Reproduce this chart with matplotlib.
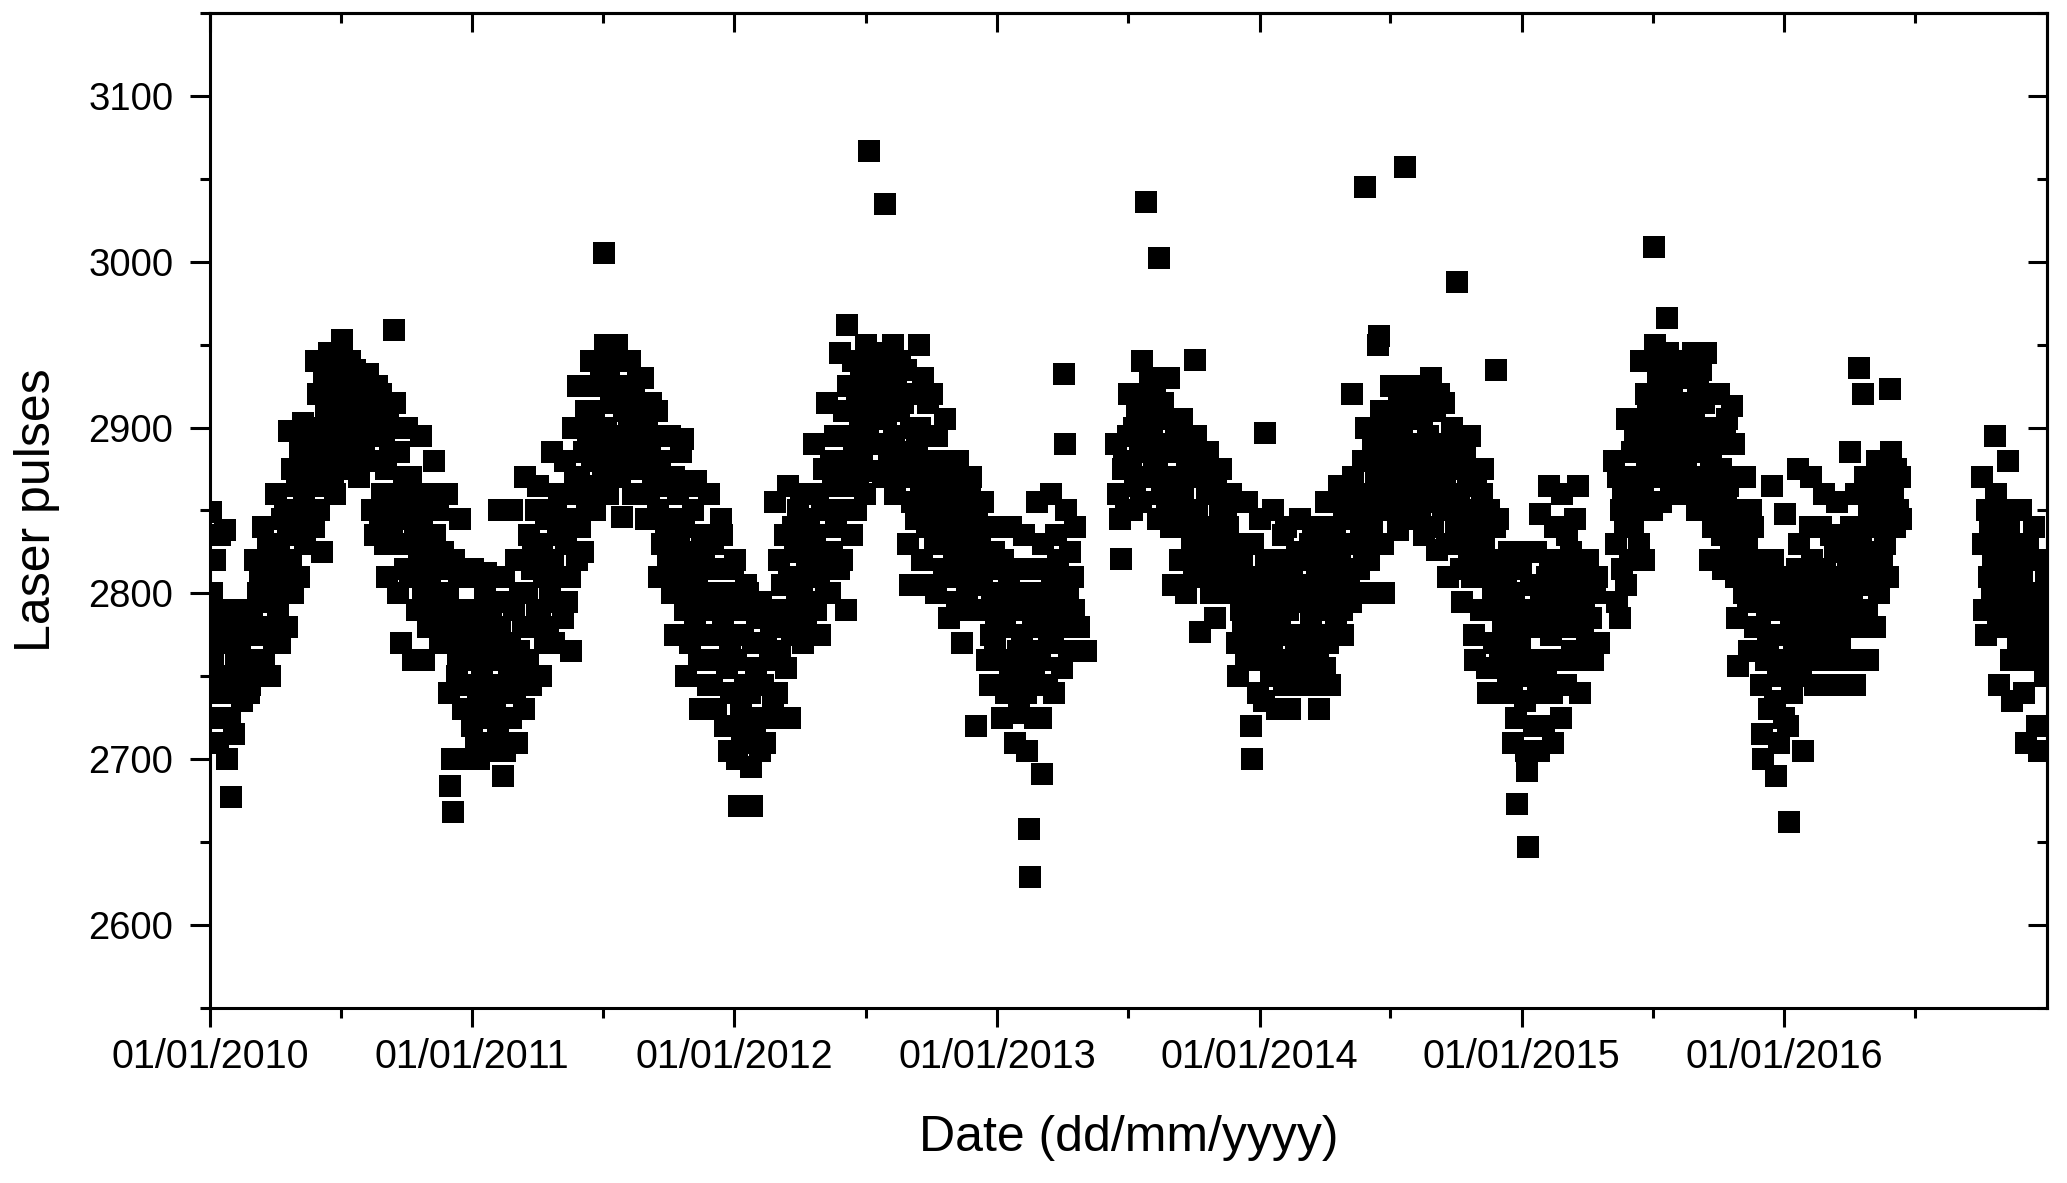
import datetime as dt
import numpy as np
import matplotlib
matplotlib.use("Agg")
import matplotlib.pyplot as plt
import matplotlib.dates as mdates
from matplotlib.ticker import MultipleLocator

plt.rcParams['font.family'] = ['Liberation Sans', 'DejaVu Sans']

# Laser pulse readings, grouped in 0.05-year bins (20 bins per calendar year)
pulses_2010 = [
    [2849, 2800, 2760, 2725, 2820, 2740, 2780, 2710, 2790, 2835, 2750, 2770],
    [2790, 2838, 2750, 2700, 2770, 2725, 2677, 2780, 2740, 2715, 2760],
    [2790, 2745, 2770, 2735, 2760, 2780, 2750, 2740],
    [2745, 2790, 2760, 2820, 2775, 2800, 2810, 2755],
    [2840, 2760, 2810, 2780, 2830, 2750, 2795, 2820, 2770, 2805],
    [2860, 2790, 2830, 2770, 2845, 2805, 2815, 2850, 2780, 2840],
    [2898, 2820, 2875, 2800, 2850, 2835, 2865, 2810, 2885, 2845],
    [2903, 2860, 2830, 2885, 2845, 2870, 2895, 2850, 2875, 2840],
    [2940, 2880, 2920, 2850, 2900, 2825, 2865, 2930, 2890, 2910, 2870],
    [2945, 2890, 2920, 2870, 2905, 2860, 2935, 2880, 2915, 2895],
    [2953, 2900, 2930, 2875, 2915, 2885, 2940, 2895, 2920, 2905],
    [2935, 2880, 2910, 2870, 2920, 2895, 2925, 2890, 2905, 2900],
    [2932, 2905, 2880, 2850, 2920, 2835, 2910, 2925, 2895, 2840],
    [2920, 2860, 2895, 2830, 2875, 2810, 2905, 2885, 2850, 2840, 2915],
    [2959, 2915, 2860, 2800, 2885, 2830, 2770, 2845, 2870, 2815, 2900],
    [2900, 2850, 2810, 2870, 2760, 2830, 2840, 2790, 2860, 2820],
    [2895, 2840, 2800, 2760, 2860, 2820, 2780, 2850, 2810, 2830, 2790],
    [2880, 2835, 2790, 2850, 2815, 2770, 2800, 2825, 2860, 2780],
    [2860, 2800, 2740, 2684, 2770, 2700, 2668, 2820, 2790, 2750, 2760, 2810],
    [2845, 2780, 2730, 2810, 2700, 2760, 2790, 2745, 2770, 2720],
]
pulses_2011 = [
    [2815, 2760, 2710, 2790, 2735, 2700, 2780, 2750, 2725, 2800],
    [2812, 2745, 2770, 2705, 2790, 2725, 2760, 2735, 2780, 2715],
    [2850, 2780, 2740, 2690, 2810, 2705, 2760, 2795, 2750, 2770, 2725],
    [2850, 2790, 2740, 2820, 2710, 2765, 2800, 2755, 2780, 2730],
    [2870, 2800, 2760, 2835, 2745, 2815, 2825, 2780, 2850, 2790],
    [2865, 2790, 2750, 2830, 2810, 2770, 2845, 2780, 2820, 2800],
    [2885, 2820, 2770, 2850, 2795, 2835, 2860, 2810, 2840, 2785],
    [2880, 2830, 2795, 2860, 2810, 2765, 2900, 2845, 2870, 2820],
    [2925, 2870, 2840, 2900, 2825, 2885, 2910, 2855, 2890, 2860],
    [2940, 2880, 2910, 2850, 2925, 2865, 2900, 2890, 2930, 2870],
    [3005, 2950, 2900, 2860, 2930, 2880, 2915, 2940, 2890, 2870, 2920],
    [2950, 2895, 2870, 2925, 2846, 2910, 2940, 2880, 2915, 2900],
    [2940, 2890, 2860, 2920, 2875, 2905, 2930, 2880, 2910, 2895],
    [2930, 2875, 2845, 2905, 2860, 2890, 2915, 2870, 2895, 2880],
    [2910, 2850, 2810, 2880, 2830, 2865, 2895, 2840, 2870, 2820],
    [2895, 2845, 2800, 2870, 2775, 2820, 2860, 2830, 2810, 2885],
    [2893, 2840, 2790, 2750, 2815, 2865, 2770, 2825, 2800, 2850, 2780],
    [2868, 2810, 2760, 2730, 2790, 2835, 2820, 2775, 2800, 2745],
    [2860, 2800, 2745, 2830, 2775, 2730, 2815, 2760, 2790, 2845],
    [2835, 2780, 2720, 2800, 2755, 2705, 2770, 2740, 2815, 2790],
]
pulses_2012 = [
    [2820, 2760, 2700, 2672, 2790, 2730, 2710, 2775, 2745, 2805, 2720],
    [2800, 2740, 2695, 2672, 2770, 2715, 2755, 2785, 2725, 2705],
    [2795, 2745, 2710, 2770, 2725, 2760, 2780, 2735],
    [2855, 2790, 2740, 2820, 2765, 2805, 2780, 2835, 2755],
    [2865, 2810, 2725, 2775, 2840, 2790, 2825, 2800, 2850, 2780],
    [2860, 2800, 2770, 2830, 2785, 2815, 2845, 2810, 2825, 2795],
    [2890, 2835, 2790, 2860, 2810, 2775, 2850, 2820, 2875, 2800],
    [2915, 2850, 2800, 2880, 2825, 2865, 2895, 2840, 2870, 2815],
    [2945, 2880, 2820, 2910, 2850, 2790, 2962, 2925, 2865, 2895, 2835],
    [2940, 2890, 2850, 2920, 2870, 2905, 2930, 2880, 2910, 2860],
    [2950, 2900, 3067, 2925, 2874, 2910, 2940, 2890, 2935, 2915],
    [2945, 2890, 2920, 2870, 3035, 2905, 2935, 2880, 2930, 2910],
    [2950, 2895, 2860, 2925, 2875, 2910, 2940, 2885, 2915, 2870],
    [2935, 2880, 2830, 2805, 2900, 2855, 2920, 2870, 2845, 2890],
    [2950, 2900, 2860, 2820, 2930, 2880, 2805, 2840, 2915, 2870, 2850],
    [2920, 2870, 2830, 2800, 2895, 2850, 2880, 2840, 2860, 2815],
    [2905, 2850, 2810, 2785, 2870, 2830, 2860, 2820, 2840, 2795],
    [2880, 2830, 2790, 2770, 2850, 2810, 2840, 2800, 2820, 2860],
    [2870, 2820, 2790, 2720, 2845, 2805, 2830, 2810, 2855],
    [2840, 2790, 2760, 2815, 2745, 2775, 2800, 2825, 2770, 2785],
]
pulses_2013 = [
    [2840, 2800, 2760, 2725, 2820, 2780, 2740, 2790, 2810, 2750],
    [2840, 2790, 2745, 2710, 2815, 2765, 2728, 2800, 2775, 2755],
    [2835, 2790, 2740, 2705, 2658, 2629, 2815, 2765, 2780, 2750, 2725, 2800],
    [2855, 2800, 2760, 2725, 2691, 2830, 2780, 2790, 2745, 2815, 2770],
    [2860, 2810, 2770, 2740, 2835, 2790, 2820, 2780, 2800, 2755],
    [2932, 2890, 2850, 2800, 2765, 2825, 2780, 2810, 2790, 2840],
    [2780, 2765],
    [],
    [],
    [2890, 2860, 2845, 2821, 2875, 2880, 2850, 2895],
    [2920, 2880, 2850, 2900, 2865, 2910, 2870, 2890, 2855],
    [2940, 2905, 2870, 3036, 2920, 2885, 2930, 2895, 2910, 2880],
    [2925, 2880, 2845, 3002, 2905, 2860, 2915, 2870, 2890, 2855],
    [2930, 2885, 2840, 2805, 2905, 2860, 2895, 2850, 2870, 2820],
    [2905, 2860, 2820, 2800, 2880, 2840, 2890, 2850, 2830, 2810],
    [2941, 2895, 2850, 2810, 2777, 2870, 2830, 2880, 2840, 2820, 2860],
    [2885, 2840, 2800, 2860, 2820, 2785, 2870, 2830, 2810, 2850],
    [2875, 2830, 2800, 2850, 2815, 2840, 2810, 2860, 2825],
    [2855, 2810, 2770, 2750, 2830, 2790, 2820, 2780, 2800, 2760],
    [2855, 2800, 2760, 2720, 2700, 2830, 2780, 2790, 2810, 2740, 2770],
]
pulses_2014 = [
    [2845, 2800, 2760, 2735, 2897, 2820, 2780, 2790, 2810, 2750, 2770],
    [2850, 2800, 2760, 2730, 2820, 2780, 2790, 2835, 2745, 2810],
    [2840, 2790, 2755, 2730, 2815, 2775, 2800, 2765, 2825, 2745],
    [2845, 2795, 2750, 2820, 2775, 2805, 2760, 2830, 2785],
    [2840, 2790, 2745, 2815, 2765, 2730, 2800, 2775, 2825, 2755],
    [2855, 2810, 2770, 2745, 2830, 2790, 2800, 2840, 2780, 2820],
    [2865, 2820, 2790, 2775, 2845, 2805, 2830, 2855, 2810, 2795],
    [2920, 2870, 2830, 2800, 2850, 2815, 2860, 2840, 2880, 2825],
    [3045, 2900, 2860, 2820, 2800, 2880, 2840, 2890, 2850, 2870, 2830],
    [2950, 2955, 2910, 2870, 2830, 2800, 2890, 2850, 2900, 2860, 2880],
    [2925, 2885, 2850, 2905, 2870, 2838, 2915, 2875, 2895, 2860],
    [3057, 2925, 2880, 2845, 2905, 2865, 2915, 2890, 2870, 2855],
    [2925, 2885, 2845, 2905, 2865, 2835, 2915, 2875, 2895, 2855],
    [2930, 2880, 2840, 2910, 2860, 2826, 2920, 2870, 2890, 2850],
    [2915, 2870, 2830, 2810, 2890, 2850, 2900, 2860, 2880, 2840],
    [2988, 2895, 2855, 2815, 2795, 2875, 2835, 2885, 2845, 2865, 2825],
    [2895, 2850, 2810, 2775, 2760, 2870, 2830, 2840, 2820, 2790, 2860],
    [2875, 2830, 2790, 2755, 2740, 2850, 2810, 2820, 2800, 2770, 2840],
    [2935, 2845, 2800, 2760, 2740, 2820, 2780, 2790, 2810, 2770, 2750],
    [2825, 2780, 2740, 2710, 2800, 2760, 2725, 2673, 2790, 2750, 2770, 2815],
]
pulses_2015 = [
    [2825, 2780, 2735, 2705, 2693, 2647, 2760, 2805, 2790, 2750, 2720],
    [2825, 2780, 2740, 2705, 2848, 2800, 2760, 2720, 2790, 2750, 2810],
    [2865, 2820, 2775, 2740, 2710, 2840, 2795, 2805, 2760, 2785, 2725],
    [2860, 2815, 2780, 2745, 2835, 2800, 2790, 2825, 2765, 2810],
    [2845, 2800, 2865, 2760, 2740, 2820, 2780, 2790, 2810, 2770],
    [2820, 2785, 2760, 2800, 2810, 2770],
    [],
    [2880, 2830, 2795, 2870, 2785, 2850, 2815, 2860, 2840, 2805],
    [2905, 2860, 2820, 2885, 2840, 2895, 2850, 2870, 2830],
    [2940, 2900, 2860, 2820, 2920, 2880, 2910, 2870, 2890, 2850],
    [3009, 2950, 2910, 2870, 2930, 2890, 2855, 2940, 2900, 2880, 2920],
    [2966, 2945, 2905, 2865, 2925, 2885, 2935, 2895, 2915, 2875],
    [2940, 2895, 2860, 2915, 2875, 2930, 2885, 2905, 2870],
    [2945, 2905, 2870, 2850, 2925, 2885, 2935, 2895, 2915, 2860],
    [2945, 2900, 2860, 2820, 2880, 2840, 2920, 2870, 2890, 2850],
    [2920, 2875, 2835, 2815, 2895, 2855, 2905, 2865, 2845, 2825],
    [2913, 2890, 2850, 2810, 2785, 2756, 2830, 2870, 2840, 2820, 2800],
    [2870, 2830, 2795, 2765, 2850, 2810, 2840, 2780, 2820, 2800],
    [2820, 2780, 2745, 2715, 2700, 2800, 2760, 2790, 2770, 2730, 2810],
    [2865, 2820, 2775, 2735, 2690, 2800, 2750, 2710, 2790, 2760, 2810, 2725],
]
pulses_2016 = [
    [2848, 2800, 2760, 2720, 2662, 2780, 2740, 2790, 2770, 2750, 2815],
    [2875, 2830, 2790, 2750, 2705, 2810, 2770, 2800, 2780, 2760, 2840],
    [2870, 2820, 2780, 2745, 2800, 2760, 2810, 2790, 2840, 2770],
    [2860, 2815, 2775, 2745, 2795, 2835, 2805, 2785, 2825, 2760],
    [2855, 2810, 2770, 2745, 2790, 2830, 2800, 2780, 2820, 2760],
    [2885, 2840, 2800, 2760, 2745, 2860, 2820, 2780, 2936, 2810, 2830, 2790],
    [2920, 2870, 2825, 2790, 2760, 2850, 2805, 2840, 2815, 2860, 2780],
    [2880, 2840, 2800, 2860, 2820, 2850, 2830, 2870, 2810],
    [2923, 2885, 2860, 2840, 2875, 2850, 2870, 2845],
    [], [], [], [], [], [],
    [2870, 2830, 2790, 2775, 2850, 2810, 2840, 2800, 2820],
    [2895, 2860, 2820, 2780, 2745, 2840, 2800, 2830, 2810, 2790, 2850],
    [2880, 2840, 2800, 2760, 2735, 2820, 2780, 2810, 2790, 2770, 2830],
    [2850, 2810, 2770, 2740, 2710, 2790, 2830, 2800, 2780, 2760, 2820],
    [2840, 2800, 2760, 2720, 2705, 2780, 2820, 2790, 2770, 2750, 2810],
]

years = [2010, 2011, 2012, 2013, 2014, 2015, 2016]
series = [pulses_2010, pulses_2011, pulses_2012, pulses_2013,
          pulses_2014, pulses_2015, pulses_2016]
BIN = 0.05


def to_date(t):
    y = int(t)
    return dt.datetime(y, 1, 1) + dt.timedelta(days=(t - y) * 365.25)


dates, values = [], []
for year, bins in zip(years, series):
    for k, vals in enumerate(bins):
        n = len(vals)
        for i, v in enumerate(vals):
            t = year + BIN * k + BIN * (i + 0.5) / n
            dates.append(to_date(t))
            values.append(v)

fig = plt.figure(figsize=(20.67, 11.83), dpi=100)
ax = fig.add_axes([0.1016, 0.148, 0.8887, 0.841])

ax.scatter(mdates.date2num(dates), values, marker='s', s=235, c='black',
           linewidths=0, zorder=3)

ax.set_xlim(mdates.date2num(dt.datetime(2010, 1, 1)),
            mdates.date2num(dt.datetime(2017, 1, 1)))
ax.set_ylim(2550, 3150)

major_x = [mdates.date2num(dt.datetime(y, 1, 1)) for y in range(2010, 2017)]
minor_x = [mdates.date2num(dt.datetime(y, 7, 2)) for y in range(2010, 2017)]
ax.set_xticks(major_x)
ax.set_xticks(minor_x, minor=True)
ax.xaxis.set_major_formatter(mdates.DateFormatter('%d/%m/%Y'))
ax.yaxis.set_major_locator(MultipleLocator(100))
ax.yaxis.set_minor_locator(MultipleLocator(50))
ax.set_yticks(np.arange(2600, 3101, 100))

for sp in ax.spines.values():
    sp.set_linewidth(2.2)

ax.tick_params(axis='x', which='major', direction='out', length=14, width=2.2,
               labelsize=28.5, pad=8, top=False)
ax.tick_params(axis='x', which='minor', direction='out', length=7, width=2.2, top=False)
ax.tick_params(axis='y', which='major', direction='out', length=14.5, width=2.2,
               labelsize=27.5, pad=12, right=False)
ax.tick_params(axis='y', which='minor', direction='out', length=7, width=2.2, right=False)

# inward ticks on top and right
secx = ax.secondary_xaxis('top')
secx.set_xticks(major_x)
secx.set_xticks(minor_x, minor=True)
secx.tick_params(which='major', direction='in', length=14, width=2.2, labeltop=False)
secx.tick_params(which='minor', direction='in', length=7, width=2.2)
secx.set_xticklabels([])
secx.spines['top'].set_linewidth(2.2)

secy = ax.secondary_yaxis('right')
secy.yaxis.set_major_locator(MultipleLocator(100))
secy.yaxis.set_minor_locator(MultipleLocator(50))
secy.tick_params(which='major', direction='in', length=14, width=2.2, labelright=False)
secy.tick_params(which='minor', direction='in', length=7, width=2.2)
secy.spines['right'].set_linewidth(2.2)

ax.set_xlabel('Date (dd/mm/yyyy)', fontsize=36, labelpad=28)
ax.set_ylabel('Laser pulses', fontsize=36, labelpad=20)

fig.savefig('out.png', dpi=100)
